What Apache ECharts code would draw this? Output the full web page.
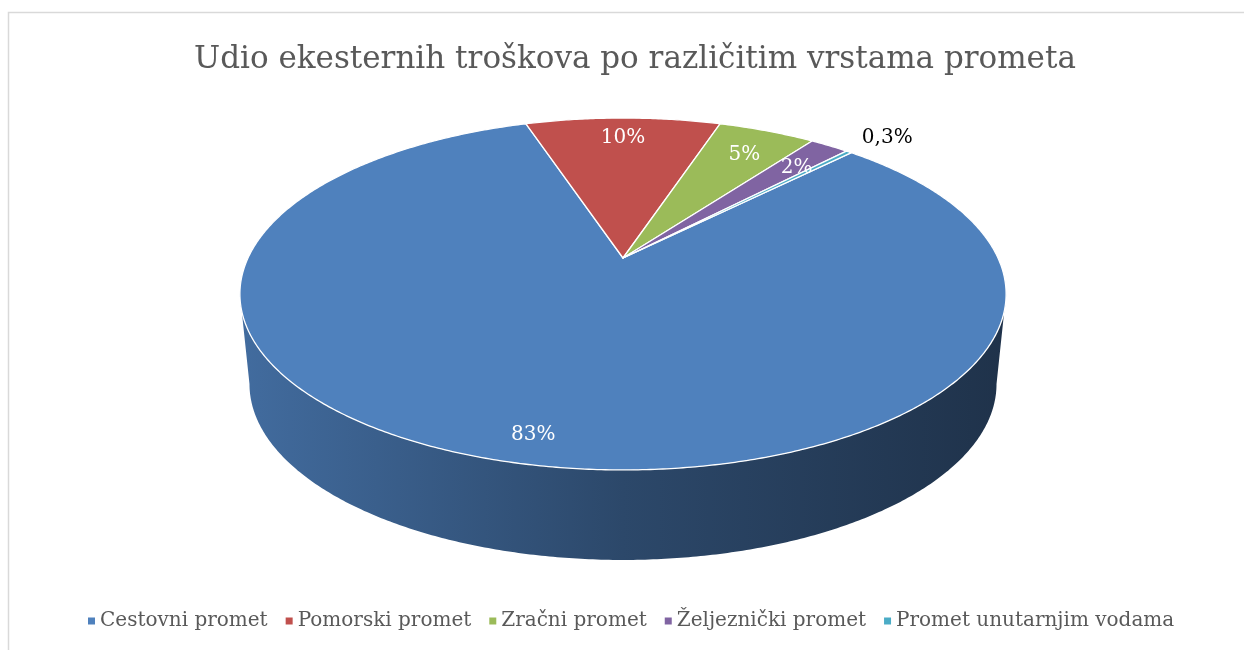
<!DOCTYPE html>
<html>
<head>
<meta charset="utf-8">
<script src="https://cdn.jsdelivr.net/npm/echarts@6/dist/echarts.min.js"></script>
<style>html,body{margin:0;padding:0;background:#fff}#c{width:1244px;height:650px}</style>
</head>
<body>
<div id="c"></div>
<script>
// ---- data ----
const titleText = 'Udio ekesternih troškova po različitim vrstama prometa';
const categories = ['Cestovni promet', 'Pomorski promet', 'Zračni promet', 'Željeznički promet', 'Promet unutarnjim vodama'];
const values = [82.7, 10, 5, 2, 0.3];
const colors = ['#4f81bd', '#c0504d', '#9bbb59', '#8064a2', '#4bacc6'];

// ---- 3D pie geometry (style) ----
const FONT = '"DejaVu Serif", serif';
const CX = 623, CY = 258;      // apex of the slices on screen
const KX = 375, KY = 168.6;    // projected radii
const PERSP = 0.2045;          // perspective strength
const DEPTH = 90;              // side thickness in px
const BOTTOM_SCALE = 0.975;
const FIRST_ANGLE = 44.28;     // degrees clockwise from 12 o'clock

const total = values.reduce((a, b) => a + b, 0);

function project(deg, r, bottom) {
  const t = deg * Math.PI / 180;
  const w = 1 + PERSP * r * Math.cos(t);
  let x = CX + KX * r * Math.sin(t) / w;
  let y = CY - KY * r * Math.cos(t) / w;
  if (bottom) { x = CX + (x - CX) * BOTTOM_SCALE; y += DEPTH; }
  return [x, y];
}
function arc(a0, a1, r, bottom) {
  const pts = [];
  const n = Math.max(2, Math.ceil(Math.abs(a1 - a0) / 0.5));
  for (let i = 0; i <= n; i++) pts.push(project(a0 + (a1 - a0) * i / n, r, bottom));
  return pts;
}
function shade(hex, f) {
  const n = parseInt(hex.slice(1), 16);
  const r = Math.round(((n >> 16) & 255) * f), g = Math.round(((n >> 8) & 255) * f), b = Math.round((n & 255) * f);
  return 'rgb(' + r + ',' + g + ',' + b + ')';
}
function fmtPct(v) {
  const p = v / total * 100;
  return (p < 1 ? p.toFixed(1).replace('.', ',') : Math.round(p)) + '%';
}

const VIS0 = Math.acos(-PERSP) * 180 / Math.PI, VIS1 = 360 - VIS0;

function makeRender(idx) {
  return function (params, api) {
    let start = FIRST_ANGLE;
    for (let i = 0; i < idx; i++) start += values[i] / total * 360;
    const end = start + values[idx] / total * 360;
    const col = colors[idx];
    const children = [];
    // side wall (front visible part)
    for (const off of [-360, 0, 360]) {
      const b0 = Math.max(start, VIS0 + off), b1 = Math.min(end, VIS1 + off);
      if (b1 > b0) {
        const pts = arc(b0, b1, 1, false).concat(arc(b1, b0, 1, true));
        children.push({
          type: 'polygon', z2: 1,
          shape: { points: pts },
          style: {
            fill: new echarts.graphic.LinearGradient(CX - 385, 0, CX + 385, 0, [
              { offset: 0, color: shade(col, 0.84) },
              { offset: 0.5, color: shade(col, 0.56) },
              { offset: 1, color: shade(col, 0.39) }
            ], true)
          }
        });
      }
    }
    // top face
    const top = [[CX, CY]].concat(arc(start, end, 1, false));
    children.push({
      type: 'polygon', z2: 10,
      shape: { points: top },
      style: { fill: col, stroke: '#ffffff', lineWidth: 1.3, lineJoin: 'round' }
    });
    // label
    const mid = (start + end) / 2;
    const pct = values[idx] / total * 100;
    const outside = pct < 1;
    const lp = project(mid, outside ? 1.2 : (pct < 8 ? 0.82 : 0.87), false);
    children.push({
      type: 'text', z2: 20,
      x: lp[0], y: lp[1] + 4,
      style: {
        text: fmtPct(values[idx]),
        fill: outside ? '#000000' : '#ffffff',
        font: '20px ' + FONT,
        align: 'center', verticalAlign: 'middle'
      }
    });
    return { type: 'group', children: children };
  };
}

const chart = echarts.init(document.getElementById('c'), null, { renderer: 'canvas' });
chart.setOption({
  animation: false,
  color: colors,
  title: {
    text: titleText, left: 189, top: 39,
    textStyle: { fontFamily: FONT, fontSize: 31, fontWeight: 'normal', color: '#595959' }
  },
  legend: {
    data: categories, bottom: 14, left: 83,
    icon: 'rect', itemWidth: 7, itemHeight: 7, itemGap: 18,
    textStyle: { fontFamily: FONT, fontSize: 20, color: '#595959' }
  },
  graphic: [{
    type: 'rect', shape: { x: 8.5, y: 12.5, width: 1260, height: 660 },
    style: { fill: 'none', stroke: '#d9d9d9', lineWidth: 1.5 }, silent: true, z: -1
  }],
  series: categories.map((name, i) => ({
    type: 'custom', name: name, coordinateSystem: 'none',
    data: [values[i]], renderItem: makeRender(i)
  }))
});
</script>
</body>
</html>
